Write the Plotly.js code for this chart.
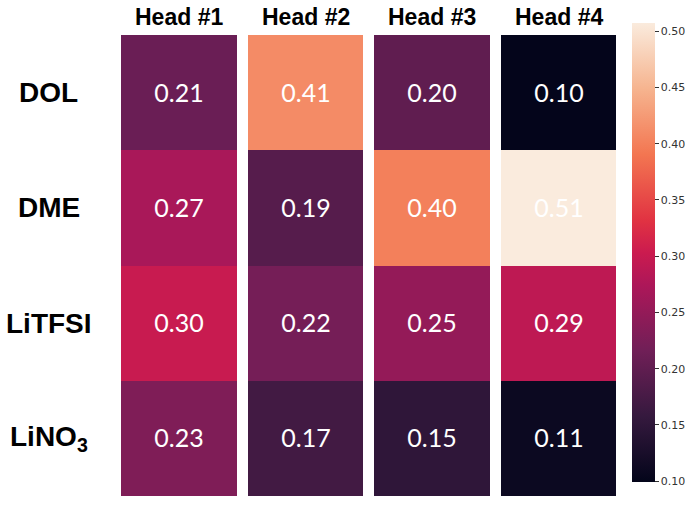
<!DOCTYPE html>
<html>
<head>
<meta charset="utf-8">
<script src="https://cdn.plot.ly/plotly-3.0.1.min.js"></script>
<style>html,body{margin:0;padding:0;background:#fff;}#chart{width:685px;height:507px;}</style>
</head>
<body>
<div id="chart"></div>
<script>
var heads = ['Head #1', 'Head #2', 'Head #3', 'Head #4'];
var rows = ['DOL', 'DME', 'LiTFSI', 'LiNO<sub>3</sub>'];
var valDOL = [0.21, 0.41, 0.20, 0.10];
var valDME = [0.27, 0.19, 0.40, 0.51];
var valLiTFSI = [0.30, 0.22, 0.25, 0.29];
var valLiNO3 = [0.23, 0.17, 0.15, 0.11];
var cbTicks = [0.10, 0.15, 0.20, 0.25, 0.30, 0.35, 0.40, 0.45, 0.50];

var rocket = [
  [0.0, '#03051a'],
  [0.143, '#35193e'],
  [0.286, '#701f57'],
  [0.429, '#ad1759'],
  [0.5, '#cb1b4f'],
  [0.571, '#e13342'],
  [0.714, '#f37651'],
  [0.857, '#f6b48f'],
  [1.0, '#faebdd']
];

var W = 685, H = 507;
var L = 116.4, R = 63, T = 34.7, B = 11;
var plotH = H - T - B;
var plotW = W - L - R;

var trace = {
  type: 'heatmap',
  x: heads,
  y: rows,
  z: [valDOL, valDME, valLiTFSI, valLiNO3],
  zmin: 0.099, zmax: 0.507,
  colorscale: rocket,
  xgap: 11, ygap: 0,
  texttemplate: '%{z:.2f}',
  textfont: {family: 'Lato, "Open Sans", sans-serif', size: 25, color: '#ffffff'},
  hoverinfo: 'none',
  colorbar: {
    thickness: 23,
    thicknessmode: 'pixels',
    len: 459, lenmode: 'pixels',
    x: (631.7 - L) / plotW, xanchor: 'left',
    y: (H - B - 252.7) / plotH, yanchor: 'middle',
    xpad: 0, ypad: 0,
    outlinewidth: 0,
    tickvals: cbTicks,
    ticktext: cbTicks.map(function(v){return v.toFixed(2);}),
    ticks: 'outside', ticklen: 4, tickwidth: 1, tickcolor: '#333',
    tickfont: {family: 'DejaVu Sans', size: 11, color: '#333'}
  }
};

var annotations = rows.map(function(r){
  return {
    text: '<b>' + r + '</b>', xref: 'paper', yref: 'y',
    x: (49 - L) / plotW, y: r, xanchor: 'center', yanchor: 'middle',
    showarrow: false,
    font: {family: 'Liberation Sans, Arial, sans-serif', size: 28, color: '#000'}
  };
}).concat(heads.map(function(h){
  return {
    text: '<b>' + h + '</b>', xref: 'x', yref: 'paper',
    x: h, y: 1 + (T - 17) / plotH, xanchor: 'center', yanchor: 'middle',
    showarrow: false,
    font: {family: 'Liberation Sans, Arial, sans-serif', size: 23, color: '#000'}
  };
}));

var layout = {
  width: W, height: H,
  margin: {l: L, r: R, t: T, b: B, pad: 0, autoexpand: false},
  paper_bgcolor: '#fff', plot_bgcolor: '#fff',
  xaxis: {showgrid: false, zeroline: false, ticks: '', showticklabels: false, showline: false},
  yaxis: {autorange: 'reversed', showgrid: false, zeroline: false, ticks: '', showticklabels: false, showline: false},
  annotations: annotations,
  showlegend: false
};

Plotly.newPlot('chart', [trace], layout, {displayModeBar: false, staticPlot: true});
</script>
</body>
</html>
